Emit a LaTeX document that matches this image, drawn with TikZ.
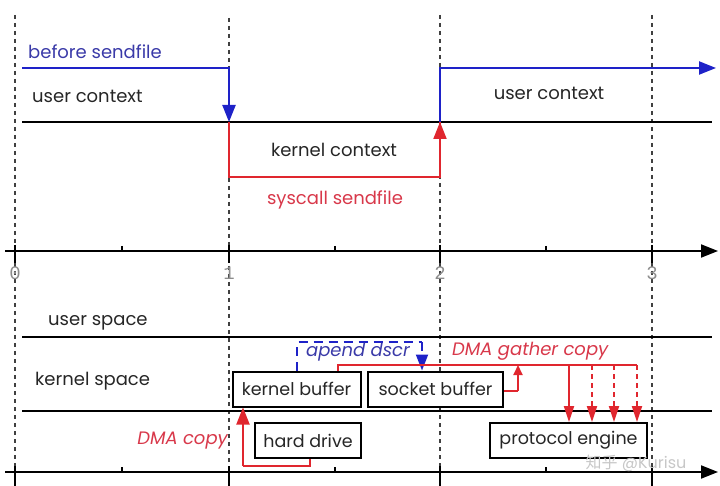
\documentclass[tikz,border=0pt]{standalone}
\usepackage{fontspec}
\setmainfont{Poppins}
\newfontfamily\cjkfont{Noto Sans CJK SC}
\newfontfamily\tickfont{Liberation Mono}
\usetikzlibrary{arrows.meta,calc}
\definecolor{myblue}{HTML}{1E22C8}
\definecolor{myred}{HTML}{E0262E}
\definecolor{bluetext}{HTML}{3A3AA8}
\definecolor{redtext}{HTML}{D8384A}
\tikzset{
  vdash/.style={draw=black!75,line width=1.3pt,dash pattern=on 4pt off 4pt},
  hline/.style={draw=black,line width=1.8pt},
  axisline/.style={draw=black,line width=2pt,-{Triangle[width=13pt,length=17pt]}},
  blueline/.style={draw=myblue,line width=2.2pt},
  redline/.style={draw=myred,line width=2pt},
  bighead/.style={-{Triangle[width=13pt,length=17pt]}},
  smallhead/.style={-{Triangle[width=9pt,length=10pt]}},
  downhead/.style={-{Triangle[width=10pt,length=16pt]}},
  lbl/.style={font=\fontsize{18}{21}\selectfont,text=black!85,inner sep=0pt},
  ilbl/.style={font=\fontsize{18}{21}\selectfont\itshape,inner sep=0pt},
  boxnode/.style={draw=black,line width=2pt,fill=white,minimum height=35pt,inner sep=0pt,font=\fontsize{17.5}{21}\selectfont,text=black!85},
  ticklbl/.style={font=\tickfont\fontsize{19}{21}\selectfont,text=black!45,inner sep=0pt}
}
\begin{document}
\begin{tikzpicture}[x=1pt,y=-1pt]
\useasboundingbox (0,0) rectangle (720,486);
% vertical dashed time lines
\draw[vdash] (15,15) -- (15,486);
\draw[vdash] (229,18) -- (229,486);
\draw[vdash] (440,15) -- (440,486);
\draw[vdash] (652,15) -- (652,486);

% ---------------- top part ----------------
\coordinate (t0) at (22,68);
\coordinate (t1) at (229,68);
\coordinate (t2) at (229,122);
\coordinate (t3) at (229,177);
\coordinate (t4) at (440,177);
\coordinate (t5) at (440,122);
\coordinate (t6) at (440,68);
\coordinate (t7) at (716,68);
\coordinate (hl0) at (22,122);
\coordinate (hl1) at (712,122);
\draw[hline] (hl0) -- (hl1);
\draw[blueline,bighead] (t0) -- (t1) -- (t2);
\draw[redline] (t2) -- (t3) -- (t4) -- (t5);
\draw[redline,bighead] (t4) -- (t5);
\draw[blueline,bighead] (t5) -- (t6) -- (t7);

\node[lbl,anchor=west,text=bluetext] (bs) at (28,52) {before sendfile};
\node[lbl,anchor=west] (uc1) at (32,96) {user context};
\node[lbl] (kc) at (334,150) {kernel context};
\node[lbl,text=redtext] (ss) at (335,200) {syscall sendfile};
\node[lbl] (uc2) at (549,93) {user context};

% ---------------- axis 1 ----------------
\coordinate (a0) at (5,251);
\coordinate (a1) at (718,251);
\draw[axisline] (a0) -- (a1);
\foreach \x/\n in {15/0,229/1,440/2,652/3}{
  \draw[line width=2.2pt] (\x,245) -- (\x,263);
  \node[ticklbl] (tl\n) at (\x,273) {\n};
}
\foreach \x in {122,335,546}{
  \draw[line width=1.2pt] (\x,246) -- (\x,251);
}

% ---------------- bottom part ----------------
\coordinate (us0) at (22,337);
\coordinate (us1) at (712,337);
\coordinate (ks0) at (22,411);
\coordinate (ks1) at (712,411);
\draw[hline] (us0) -- (us1);
\draw[hline] (ks0) -- (ks1);
\node[lbl,anchor=west] (usp) at (48,323) {user space};
\node[lbl,anchor=west] (ksp) at (35,381) {kernel space};

% axis 2
\coordinate (b0) at (5,472);
\coordinate (b1) at (718,472);
\draw[axisline] (b0) -- (b1);
\foreach \x in {15,229,440,652}{
  \draw[line width=2.2pt] (\x,466) -- (\x,486);
}
\foreach \x in {122,335,546}{
  \draw[line width=1.2pt] (\x,467) -- (\x,472);
}

% boxes
\node[boxnode,minimum width=128pt] (kb) at (296.5,389) {kernel buffer};
\node[boxnode,minimum width=135pt] (sb) at (435.5,389) {socket buffer};
\node[boxnode,minimum width=106pt] (hd) at (308,440.5) {hard drive};
\node[boxnode,minimum width=157pt] (pe) at (568.5,440.5) {protocol engine};

% DMA copy
\coordinate (dc0) at (310,466);
\coordinate (dc1) at (243,466);
\draw[redline] (hd.south -| dc0) -- (dc0) -- (dc1);
\draw[redline,bighead] (dc1) -- (kb.south -| dc1);
\node[ilbl,anchor=east,text=redtext] (dmac) at (228,441) {DMA copy};

% append dscr
\coordinate (ad0) at (297,342);
\coordinate (ad1) at (422,342);
\draw[draw=myblue,line width=2pt,dash pattern=on 9pt off 6pt] (kb.north -| ad0) -- (ad0) -- (ad1);
\draw[draw=myblue,line width=2pt,dash pattern=on 9pt off 6pt,-{Triangle[width=12pt,length=16pt]}] (ad1) -- (sb.north -| ad1);
\node[ilbl,text=bluetext] (adl) at (358,352) {apend dscr};

% DMA gather copy
\coordinate (g0) at (338,365);
\coordinate (g1) at (637,365);
\coordinate (g2) at (518,391);
\draw[redline] (kb.north -| g0) -- (g0) -- (g1);
\draw[redline] (sb.east |- g2) -- (g2);
\draw[redline,smallhead] (g2) -- (518,365);
\draw[redline,downhead] (569,365) -- (pe.north -| 569,0);
\foreach \x in {592,614,637}{
  \draw[redline,dash pattern=on 5pt off 4pt] (\x,365) -- (\x,402);
  \draw[redline,downhead] (\x,402) -- (pe.north -| \x,0);
}
\node[ilbl,anchor=west,text=redtext] (dgc) at (452,351) {DMA gather copy};

% watermark
\node[font=\fontsize{16}{18}\selectfont,text=black!22,inner sep=0pt] (wm) at (636,463) {{\cjkfont 知乎} @Kurisu};
\end{tikzpicture}
\end{document}
